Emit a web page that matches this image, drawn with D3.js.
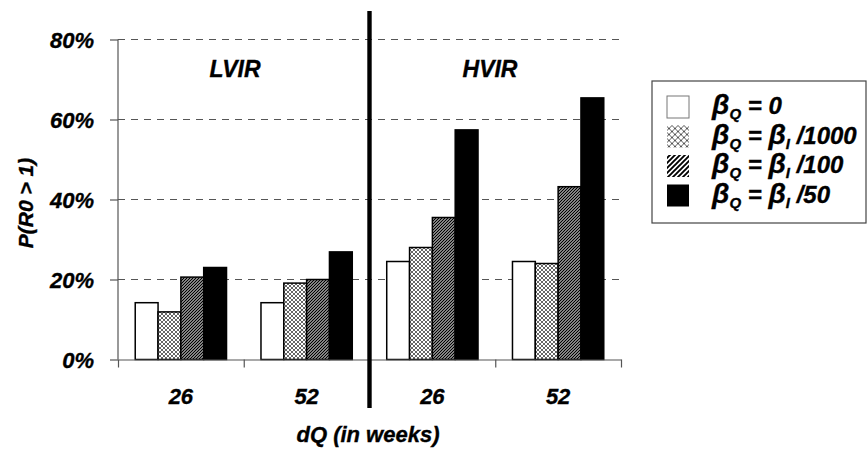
<!DOCTYPE html>
<html>
<head>
<meta charset="utf-8">
<style>
body { margin: 0; background: #fff; }
text { font-family: "Liberation Sans", Arial, sans-serif; font-weight: bold; font-style: italic; fill: #000; stroke: #000; stroke-width: 0.35px; }
.grid line { stroke: #555; stroke-dasharray: 7,6; stroke-width: 1.2px; }
.axis path, .axis line { stroke: #555; stroke-width: 1.2px; }
.bar { stroke: #000; stroke-width: 1.5px; }
</style>
</head>
<body>
<script src="https://cdn.jsdelivr.net/npm/d3@7"></script>
<script>

// data
var groups = ["LVIR-26", "LVIR-52", "HVIR-26", "HVIR-52"];
var dqLabels = ["26", "52", "26", "52"];
var regions = ["LVIR", "HVIR"];
var seriesKeys = ["b0", "b1000", "b100", "b50"];
var beta0    = [14.2, 14.2, 24.5, 24.5];
var beta1000 = [11.9, 19.1, 28.0, 24.0];
var beta100  = [20.6, 20.0, 35.5, 43.2];
var beta50   = [23.0, 26.9, 57.4, 65.4];
var yTicks = [0, 20, 40, 60, 80];

var series = [beta0, beta1000, beta100, beta50];
var fills = ["#fff", "url(#cross)", "url(#hatch)", "#000"];
var legFills = ["#fff", "url(#crossL)", "url(#hatchL)", "#000"];

var width = 868, height = 452;
var plotL = 118, plotR = 621, plotT = 39.5, plotB = 359.5;

var svg = d3.select("body").append("svg")
    .attr("width", width)
    .attr("height", height);

// patterns
var defs = svg.append("defs");
function crossPat(id, s, col) {
  var p = defs.append("pattern").attr("id", id).attr("patternUnits", "userSpaceOnUse")
      .attr("width", s).attr("height", s);
  p.append("rect").attr("width", s).attr("height", s).attr("fill", "#fff");
  p.append("path").attr("d", "M0,0L" + s + "," + s + "M" + s + ",0L0," + s)
      .attr("stroke", col).attr("stroke-width", 0.9);
}
function hatchPat(id, s, w) {
  var p = defs.append("pattern").attr("id", id).attr("patternUnits", "userSpaceOnUse")
      .attr("width", s).attr("height", s);
  p.append("rect").attr("width", s).attr("height", s).attr("fill", "#fff");
  p.append("path").attr("d", "M0," + s + "L" + s + ",0M" + (-s) + "," + s + "L" + s + "," + (-s) + "M0," + (2 * s) + "L" + (2 * s) + ",0")
      .attr("stroke", "#000").attr("stroke-width", w);
}
crossPat("cross", 4, "#555");
hatchPat("hatch", 3, 1.4);
crossPat("crossL", 6, "#444");
hatchPat("hatchL", 5, 1.9);

var x = d3.scaleBand().domain(groups).range([plotL, plotR])
    .paddingInner(0.274).paddingOuter(0.137);
var xs = d3.scaleBand().domain(seriesKeys).range([0, x.bandwidth()]);
var xb = d3.scaleLinear().domain([0, groups.length]).range([plotL, plotR]);
var y = d3.scaleLinear().domain([0, 80]).range([plotB, plotT]);

// gridlines
svg.append("g").attr("class", "grid")
  .selectAll("line").data(yTicks.slice(1)).enter().append("line")
    .attr("x1", plotL).attr("x2", plotR)
    .attr("y1", d => y(d)).attr("y2", d => y(d));

// bars
seriesKeys.forEach(function(k, si) {
  svg.append("g").selectAll("rect").data(series[si]).enter().append("rect")
      .attr("class", "bar")
      .attr("x", (d, i) => x(groups[i]) + xs(k))
      .attr("y", d => y(d))
      .attr("width", xs.bandwidth())
      .attr("height", d => y(0) - y(d))
      .attr("fill", fills[si]);
});

// y axis
var yAxis = svg.append("g").attr("class", "axis")
    .attr("transform", "translate(" + plotL + ",0)")
    .call(d3.axisLeft(y).tickValues(yTicks).tickSize(8).tickSizeOuter(0).tickFormat(d => d + "%"));
yAxis.selectAll("text").attr("font-size", 22).attr("x", -24).attr("dy", "0.36em");
yAxis.select(".domain").attr("d", "M0," + plotT + "V" + plotB);

// x axis
var xAxis = svg.append("g").attr("class", "axis")
    .attr("transform", "translate(0," + plotB + ")")
    .call(d3.axisBottom(xb).tickValues(d3.range(groups.length + 1)).tickSize(8).tickSizeOuter(0).tickFormat(""));

svg.append("g").selectAll("text").data(dqLabels).enter().append("text")
    .attr("x", (d, i) => x(groups[i]) + x.bandwidth() / 2)
    .attr("y", 404)
    .attr("text-anchor", "middle")
    .attr("font-size", 22)
    .text(d => d);

// divider between LVIR and HVIR
svg.append("line")
    .attr("x1", xb(2)).attr("x2", xb(2))
    .attr("y1", 11).attr("y2", 408)
    .attr("stroke", "#000").attr("stroke-width", 4.4);

// region labels
svg.append("g").selectAll("text").data(regions).enter().append("text")
    .attr("x", (d, i) => i == 0 ? 235 : 490)
    .attr("y", 77)
    .attr("text-anchor", "middle")
    .attr("font-size", 23)
    .text(d => d);

// axis titles
svg.append("text")
    .attr("x", 368).attr("y", 442)
    .attr("text-anchor", "middle")
    .attr("font-size", 22)
    .text("dQ (in weeks)");

svg.append("text")
    .attr("transform", "translate(33,203) rotate(-90)")
    .attr("text-anchor", "middle")
    .attr("font-size", 21)
    .text("P(R0 > 1)");

// legend
var legend = svg.append("g");
legend.append("rect")
    .attr("x", 652).attr("y", 81).attr("width", 214).attr("height", 142)
    .attr("fill", "#fff").attr("stroke", "#444").attr("stroke-width", 1.2);

var divs = ["", "/1000", "/100", "/50"];
var rows = legend.selectAll("g.row").data(seriesKeys).enter().append("g")
    .attr("class", "row")
    .attr("transform", (d, i) => "translate(0," + (96 + i * 29.5) + ")");
rows.append("rect")
    .attr("x", 667).attr("y", 0).attr("width", 22).attr("height", 22)
    .attr("fill", (d, i) => legFills[i])
    .attr("stroke", (d, i) => i == 0 ? "#777" : "none");
var lt = rows.append("text").attr("x", 712).attr("y", 18).attr("font-size", 24);
lt.each(function(d, i) {
  var t = d3.select(this);
  t.append("tspan").attr("font-size", 28).text("\u03b2");
  t.append("tspan").attr("font-size", 15).attr("dy", 5).text("Q");
  if (i == 0) {
    t.append("tspan").attr("dy", -5).text(" = 0");
  } else {
    t.append("tspan").attr("dy", -5).text(" = ");
    t.append("tspan").attr("font-size", 28).text("\u03b2");
    t.append("tspan").attr("font-size", 15).attr("dy", 5).text("I");
    t.append("tspan").attr("dy", -5).text(" " + divs[i]);
  }
});

</script>
</body>
</html>
